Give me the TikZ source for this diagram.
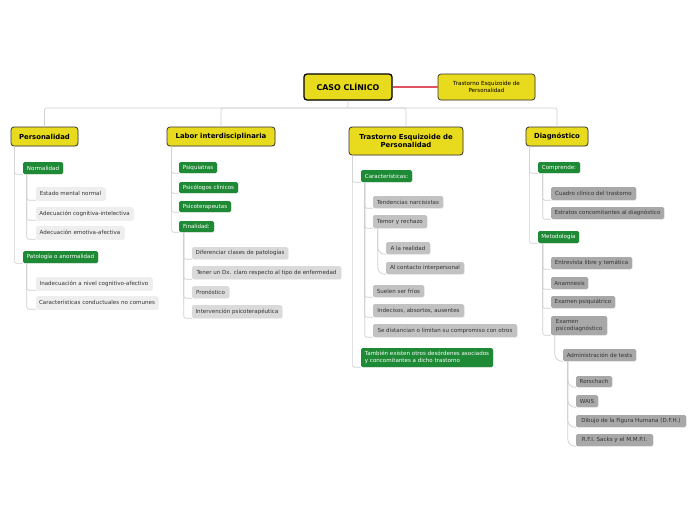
\documentclass[tikz,border=0pt]{standalone}
\usepackage{fontspec}
\setmainfont{DejaVu Sans}
\usetikzlibrary{shadows}
\definecolor{yel}{HTML}{E8DA1C}
\definecolor{grn}{HTML}{1E8A35}
\definecolor{ga}{HTML}{EEEEEE}
\definecolor{gb}{HTML}{DADADA}
\definecolor{gc}{HTML}{C2C2C2}
\definecolor{gd}{HTML}{A8A8A8}
\definecolor{ln}{HTML}{CFCFCF}
\definecolor{redln}{RGB}{226,80,100}
\tikzset{
 box/.style={rounded corners=1.5pt, inner sep=0pt, align=center, font=\fontsize{5.55}{6.6}\selectfont, text=black!80,
   drop shadow={shadow xshift=0.6pt, shadow yshift=-0.7pt, opacity=0.18}},
 mainbox/.style={box, fill=yel, draw=black!80, line width=0.8pt, rounded corners=3pt, text=black,
   font=\bfseries\fontsize{6.9}{8.2}\selectfont},
 rootbox/.style={mainbox, line width=1.3pt, draw=black, font=\bfseries\fontsize{7.9}{9}\selectfont},
 sidebox/.style={mainbox, line width=0.7pt, font=\fontsize{5.6}{7}\selectfont},
 gnbox/.style={box, fill=grn, text=white},
 gabox/.style={box, fill=ga},
 gbbox/.style={box, fill=gb},
 gcbox/.style={box, fill=gc},
 gdbox/.style={box, fill=gd},
 conn/.style={draw=ln, line width=0.7pt, rounded corners=2pt},
 curv/.style={conn, rounded corners=7pt},
 redconn/.style={draw=redln, line width=1.1pt},
}
\newcommand\bx[7]{\node[#6, minimum width={(#4-#2)*1pt}, minimum height={(#5-#3)*1pt}] (#1) at ({(#2+#4)/2},{(#3+#5)/2}) {#7};}
\begin{document}
\begin{tikzpicture}[x=1pt,y=-1pt]
\path[use as bounding box, fill=white] (0,0) rectangle (696,520);
% nodes
\bx{root}{304}{74}{392}{100}{rootbox}{CASO CLÍNICO}
\bx{side}{438}{74}{535}{100}{sidebox}{Trastorno Esquizoide de\\Personalidad}
\bx{per}{11}{127}{78}{146}{mainbox}{Personalidad}
\bx{lab}{167}{127}{275}{146}{mainbox}{Labor interdisciplinaria}
\bx{tep}{349}{127}{463}{155}{mainbox}{Trastorno Esquizoide de\\Personalidad}
\bx{dia}{526}{127}{588}{146}{mainbox}{Diagnóstico}
% Personalidad
\bx{nor}{23}{162}{63}{174}{gnbox}{Normalidad}
\bx{nora}{36}{187}{105}{200}{gabox}{Estado mental normal}
\bx{norb}{36}{207}{133}{220}{gabox}{Adecuación cognitiva-intelectiva}
\bx{norc}{36}{226}{124}{239}{gabox}{Adecuación emotiva-afectiva}
\bx{pat}{23}{251}{98}{263}{gnbox}{Patología o anormalidad}
\bx{pata}{36}{277}{152}{290}{gabox}{Inadecuación a nivel cognitivo-afectivo}
\bx{patb}{36}{296}{158}{309}{gabox}{Características conductuales no comunes}
% Labor
\bx{psq}{179}{162}{217}{173}{gnbox}{Psiquiatras}
\bx{psc}{179}{182}{238}{193}{gnbox}{Psicólogos clínicos}
\bx{pst}{179}{201}{231}{212}{gnbox}{Psicoterapeutas}
\bx{fin}{179}{221}{214}{232}{gnbox}{Finalidad:}
\bx{fina}{192}{247}{288}{259}{gbbox}{Diferenciar clases de patologías}
\bx{finb}{192}{266}{341}{279}{gbbox}{Tener un Dx. claro respecto al tipo de enfermedad}
\bx{finc}{192}{286}{229}{298}{gbbox}{Pronóstico}
\bx{find}{192}{305}{282}{318}{gbbox}{Intervención psicoterapéutica}
% Trastorno
\bx{car}{361}{170}{412}{182}{gnbox}{Características:}
\bx{cara}{373}{196}{443}{208}{gcbox}{Tendencias narcisistas}
\bx{carb}{373}{215}{427}{228}{gcbox}{Temor y rechazo}
\bx{carba}{386}{242}{430}{254}{gcbox}{A la realidad}
\bx{carbb}{386}{262}{464}{274}{gcbox}{Al contacto interpersonal}
\bx{carc}{373}{285}{424}{297}{gcbox}{Suelen ser fríos}
\bx{card}{373}{304}{464}{317}{gcbox}{Indecisos, absortos, ausentes}
\bx{care}{373}{324}{517}{337}{gcbox}{Se distancian o limitan su compromiso con otros}
\bx{tam}{361}{348}{493}{367}{gnbox, align=left}{También existen otros desórdenes asociados\\y concomitantes a dicho trastorno}
% Diagnostico
\bx{com}{538}{162}{580}{173}{gnbox}{Comprende:}
\bx{coma}{551}{187}{636}{200}{gdbox}{Cuadro clínico del trastorno}
\bx{comb}{551}{207}{664}{219}{gdbox}{Estratos concomitantes al diagnóstico}
\bx{met}{538}{231}{579}{243}{gnbox}{Metodología}
\bx{meta}{551}{257}{632}{269}{gdbox}{Entrevista libre y temática}
\bx{metb}{551}{277}{588}{289}{gdbox}{Anamnesis}
\bx{metc}{551}{296}{615}{308}{gdbox}{Examen psiquiátrico}
\bx{metd}{551}{316}{607}{335}{gdbox, align=left}{Examen\\psicodiagnóstico}
\bx{adm}{563}{349}{636}{361}{gdbox}{Administración de tests}
\bx{adma}{576}{376}{612}{387}{gdbox}{Rorschach}
\bx{admb}{576}{395}{598}{407}{gdbox}{WAIS}
\bx{admc}{576}{415}{686}{427}{gdbox}{Dibujo de la Figura Humana (D.F.H.)}
\bx{admd}{576}{434}{653}{446}{gdbox}{R.F.I. Sacks y el M.M.P.I.}
% connectors
\coordinate (hub) at (348,108);
\draw[redconn] (root.east) -- (side.west);
\draw[conn] (root.south) -- (hub) -| (per.north);
\draw[conn] (hub) -| (lab.north);
\draw[conn] (hub) -| (tep.north);
\draw[conn] (hub) -| (dia.north);
\foreach \c in {nor,pat} \draw[conn] ([xshift=4pt]per.south west) |- (\c.south west);
\foreach \c in {nora,norb,norc} \draw[conn] ([xshift=4pt]nor.south west) |- (\c.south west);
\foreach \c in {pata,patb} \draw[conn] ([xshift=4pt]pat.south west) |- (\c.south west);
\foreach \c in {psq,psc,pst,fin} \draw[conn] ([xshift=5pt]lab.south west) |- (\c.south west);
\foreach \c in {fina,finb,finc,find} \draw[conn] ([xshift=5pt]fin.south west) |- (\c.south west);
\foreach \c in {car,tam} \draw[conn] ([xshift=4pt]tep.south west) |- (\c.south west);
\foreach \c in {cara,carb,carc,card,care} \draw[conn] ([xshift=4pt]car.south west) |- (\c.south west);
\foreach \c in {carba,carbb} \draw[curv] ([xshift=5pt]carb.south west) |- (\c.south west);
\foreach \c in {com,met} \draw[conn] ([xshift=4pt]dia.south west) |- (\c.south west);
\foreach \c in {coma,comb} \draw[conn] ([xshift=5pt]com.south west) |- (\c.south west);
\foreach \c in {meta,metb,metc,metd} \draw[conn] ([xshift=5pt]met.south west) |- (\c.south west);
\draw[curv] ([xshift=4pt]metd.south west) |- (adm.south west);
\foreach \c in {adma,admb,admc,admd} \draw[curv] ([xshift=5pt]adm.south west) |- (\c.south west);
\end{tikzpicture}
\end{document}
